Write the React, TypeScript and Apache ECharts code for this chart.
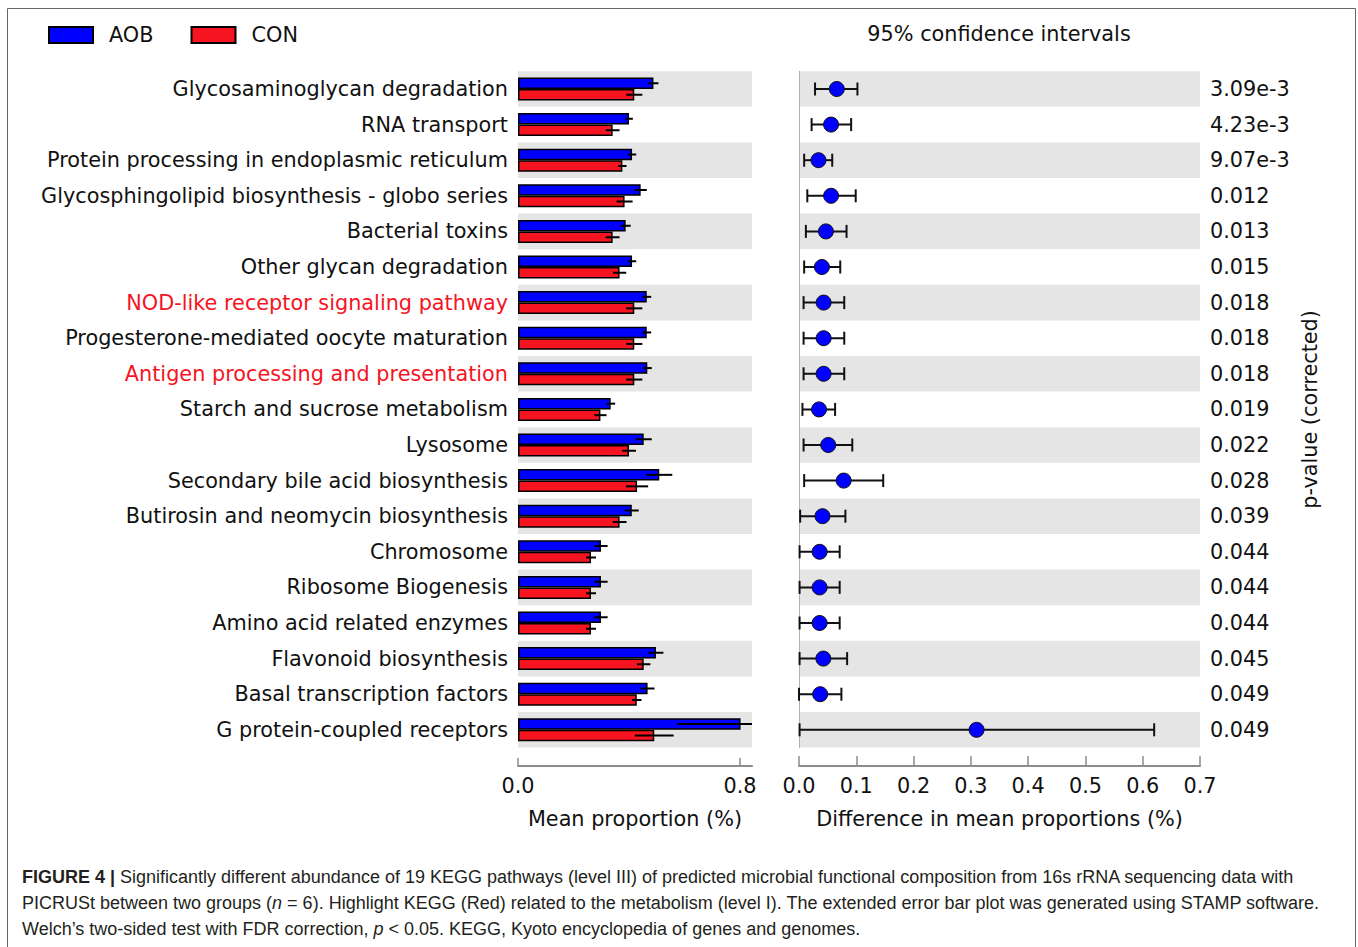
import React, { useEffect, useRef } from "react";
import * as echarts from "echarts";

const categories = [
  "Glycosaminoglycan degradation",
  "RNA transport",
  "Protein processing in endoplasmic reticulum",
  "Glycosphingolipid biosynthesis - globo series",
  "Bacterial toxins",
  "Other glycan degradation",
  "NOD-like receptor signaling pathway",
  "Progesterone-mediated oocyte maturation",
  "Antigen processing and presentation",
  "Starch and sucrose metabolism",
  "Lysosome",
  "Secondary bile acid biosynthesis",
  "Butirosin and neomycin biosynthesis",
  "Chromosome",
  "Ribosome Biogenesis",
  "Amino acid related enzymes",
  "Flavonoid biosynthesis",
  "Basal transcription factors",
  "G protein-coupled receptors",
];
const highlighted = [
  "NOD-like receptor signaling pathway",
  "Antigen processing and presentation",
];

const aobMean = [0.488, 0.4, 0.411, 0.442, 0.388, 0.411, 0.464, 0.464, 0.466, 0.334, 0.453, 0.509, 0.41, 0.299, 0.299, 0.299, 0.497, 0.467, 0.802];
const aobErr = [0.018, 0.014, 0.015, 0.022, 0.018, 0.015, 0.016, 0.016, 0.016, 0.016, 0.029, 0.047, 0.025, 0.024, 0.024, 0.024, 0.027, 0.025, 0.228];
const conMean = [0.419, 0.341, 0.376, 0.384, 0.341, 0.366, 0.419, 0.419, 0.419, 0.297, 0.4, 0.429, 0.366, 0.263, 0.263, 0.263, 0.453, 0.428, 0.491];
const conErr = [0.029, 0.025, 0.015, 0.029, 0.025, 0.024, 0.029, 0.029, 0.029, 0.022, 0.025, 0.04, 0.025, 0.018, 0.018, 0.018, 0.024, 0.017, 0.07];

const diffMean = [0.066, 0.056, 0.034, 0.056, 0.047, 0.04, 0.043, 0.043, 0.043, 0.035, 0.051, 0.078, 0.041, 0.036, 0.036, 0.036, 0.0425, 0.037, 0.31];
const ciLow = [0.028, 0.022, 0.009, 0.0145, 0.012, 0.009, 0.008, 0.008, 0.008, 0.006, 0.008, 0.009, 0.002, 0.001, 0.001, 0.001, 0.001, 0.0, 0.001];
const ciHigh = [0.102, 0.091, 0.058, 0.099, 0.083, 0.072, 0.079, 0.079, 0.079, 0.063, 0.093, 0.147, 0.081, 0.071, 0.071, 0.071, 0.084, 0.074, 0.62];

const pValues = ["3.09e-3", "4.23e-3", "9.07e-3", "0.012", "0.013", "0.015", "0.018", "0.018", "0.018", "0.019", "0.022", "0.028", "0.039", "0.044", "0.044", "0.044", "0.045", "0.049", "0.049"];

const leftTicks = [0, 0.8];
const rightTicks = [0, 0.1, 0.2, 0.3, 0.4, 0.5, 0.6, 0.7];

const FONT = "DejaVu Sans";
const FS = 20.8;
const CAP_FONT = "'Liberation Sans Narrow', 'Liberation Sans', Arial, sans-serif";
const CAP_FS = 18;
const BLUE = "#0000ff";
const RED = "#f5141f";
const TXT = "#111111";

export default function App() {
  const ref = useRef<HTMLDivElement>(null);

  useEffect(() => {
    if (!ref.current) return;
    const chart = echarts.init(ref.current, undefined, { renderer: "svg" });

    const gridTop = 71.2;
    const gridH = 676.4;
    const barW = 11.5;

    const errItem = (offset: number) => (params: any, api: any) => {
      const idx = api.value(0);
      const m = api.value(1);
      const e = api.value(2);
      const a = api.coord([m - e, idx]);
      const b = api.coord([m + e, idx]);
      const y = a[1] + offset;
      return {
        type: "line",
        shape: { x1: a[0], y1: y, x2: b[0], y2: y },
        style: { stroke: "#000", lineWidth: 2 },
      };
    };

    const ciItem = (params: any, api: any) => {
      const idx = api.value(0);
      const a = api.coord([api.value(1), idx]);
      const b = api.coord([api.value(2), idx]);
      const h = 6.5;
      const st = { stroke: "#111", lineWidth: 2 };
      return {
        type: "group",
        children: [
          { type: "line", shape: { x1: a[0], y1: a[1], x2: b[0], y2: b[1] }, style: st },
          { type: "line", shape: { x1: a[0], y1: a[1] - h, x2: a[0], y2: a[1] + h }, style: st },
          { type: "line", shape: { x1: b[0], y1: b[1] - h, x2: b[0], y2: b[1] + h }, style: st },
        ],
      };
    };

    const bandColors = ["#e5e5e5", "rgba(255,255,255,0)"];
    const txt = { fontSize: FS, fontFamily: FONT, color: TXT };

    const option: any = {
      animation: false,
      backgroundColor: "#ffffff",
      textStyle: { fontFamily: FONT, color: TXT },
      legend: {
        data: ["AOB", "CON"],
        left: 48,
        top: 24.5,
        padding: 0,
        itemWidth: 44,
        itemHeight: 16,
        itemGap: 37,
        icon: "rect",
        textStyle: { ...txt, padding: [0, 0, 0, 11] },
      },
      grid: [
        { left: 518, top: gridTop, width: 234, height: gridH },
        { left: 799, top: gridTop, width: 401, height: gridH },
      ],
      xAxis: [
        {
          type: "value",
          gridIndex: 0,
          min: 0,
          max: 0.8432,
          offset: 18.5,
          splitLine: { show: false },
          axisLine: { show: true, lineStyle: { color: "#8c8c8c", width: 2 } },
          axisTick: { show: true, inside: true, length: 8, customValues: leftTicks, lineStyle: { color: "#8c8c8c", width: 1.5 } },
          axisLabel: {
            customValues: leftTicks,
            formatter: (v: number) => v.toFixed(1),
            ...txt,
            margin: 9,
          },
          name: "Mean proportion (%)",
          nameLocation: "middle",
          nameGap: 42,
          nameTextStyle: txt,
        },
        {
          type: "value",
          gridIndex: 1,
          min: 0,
          max: 0.7,
          interval: 0.1,
          offset: 18.5,
          splitLine: { show: false },
          axisLine: { show: true, lineStyle: { color: "#8c8c8c", width: 2 } },
          axisTick: { show: true, inside: true, length: 10, customValues: rightTicks, lineStyle: { color: "#8c8c8c", width: 1.5 } },
          axisLabel: {
            customValues: rightTicks,
            formatter: (v: number) => v.toFixed(1),
            ...txt,
            margin: 9,
          },
          name: "Difference in mean proportions (%)",
          nameLocation: "middle",
          nameGap: 42,
          nameTextStyle: txt,
        },
      ],
      yAxis: [
        {
          type: "category",
          gridIndex: 0,
          inverse: true,
          data: categories.map((c) =>
            highlighted.includes(c) ? { value: c, textStyle: { color: RED } } : c
          ),
          axisLine: { show: false },
          axisTick: { show: false },
          axisLabel: { ...txt, margin: 10 },
          splitArea: { show: true, interval: 0, areaStyle: { color: bandColors } },
        },
        {
          type: "category",
          gridIndex: 1,
          inverse: true,
          data: categories,
          axisLine: { show: true, lineStyle: { color: "#b0b0b0", width: 1 } },
          axisTick: { show: false },
          axisLabel: { show: false },
          splitArea: { show: true, interval: 0, areaStyle: { color: bandColors } },
        },
        {
          type: "category",
          gridIndex: 1,
          inverse: true,
          position: "right",
          data: pValues.map((p, i) => ({ value: p + "\u200b".repeat(i) })),
          axisLine: { show: false },
          axisTick: { show: false },
          axisLabel: {
            ...txt,
            margin: 10,
            align: "left",
            formatter: (v: string) => v.replace(/\u200b/g, ""),
          },
          name: "p-value (corrected)",
          nameLocation: "middle",
          nameRotate: 90,
          nameGap: 99,
          nameTextStyle: txt,
        },
      ],
      series: [
        {
          name: "AOB",
          type: "bar",
          xAxisIndex: 0,
          yAxisIndex: 0,
          data: aobMean,
          barWidth: barW,
          barGap: "0%",
          itemStyle: { color: BLUE, borderColor: "#000", borderWidth: 1.5 },
          z: 2,
        },
        {
          name: "CON",
          type: "bar",
          xAxisIndex: 0,
          yAxisIndex: 0,
          data: conMean,
          barWidth: barW,
          barGap: "0%",
          itemStyle: { color: RED, borderColor: "#000", borderWidth: 1.5 },
          z: 2,
        },
        {
          type: "custom",
          xAxisIndex: 0,
          yAxisIndex: 0,
          clip: true,
          renderItem: errItem(-barW / 2),
          data: aobMean.map((m, i) => [i, m, aobErr[i]]),
          encode: { y: 0, x: 1 },
          z: 3,
        },
        {
          type: "custom",
          xAxisIndex: 0,
          yAxisIndex: 0,
          clip: true,
          renderItem: errItem(barW / 2),
          data: conMean.map((m, i) => [i, m, conErr[i]]),
          encode: { y: 0, x: 1 },
          z: 3,
        },
        {
          type: "custom",
          xAxisIndex: 1,
          yAxisIndex: 1,
          renderItem: ciItem,
          data: diffMean.map((m, i) => [i, ciLow[i], ciHigh[i]]),
          encode: { y: 0, x: [1, 2] },
          z: 3,
        },
        {
          type: "scatter",
          xAxisIndex: 1,
          yAxisIndex: 1,
          symbol: "circle",
          symbolSize: 15,
          data: diffMean.map((m, i) => [m, i]),
          itemStyle: { color: BLUE, borderColor: "#111", borderWidth: 1, opacity: 1 },
          z: 4,
        },
      ],
      graphic: [
        {
          type: "rect",
          shape: { x: 7.5, y: 8.5, width: 1348, height: 960 },
          style: { fill: "none", stroke: "#666", lineWidth: 1 },
          silent: true,
        },
        {
          type: "text",
          x: 999,
          y: 34,
          style: {
            text: "95% confidence intervals",
            fontSize: FS,
            fontFamily: FONT,
            fill: TXT,
            align: "center",
            verticalAlign: "middle",
          },
        },
        {
          type: "text",
          x: 22,
          y: 877,
          style: {
            text: "{b|FIGURE 4 |} Significantly different abundance of 19 KEGG pathways (level III) of predicted microbial functional composition from 16s rRNA sequencing data with",
            fontSize: CAP_FS,
            fontFamily: CAP_FONT,
            fill: "#231f20",
            verticalAlign: "middle",
            rich: { b: { fontWeight: "bold", fontSize: CAP_FS, fontFamily: CAP_FONT, fill: "#231f20" } },
          },
        },
        {
          type: "text",
          x: 22,
          y: 903,
          style: {
            text: "PICRUSt between two groups ({i|n} = 6). Highlight KEGG (Red) related to the metabolism (level I). The extended error bar plot was generated using STAMP software.",
            fontSize: CAP_FS,
            fontFamily: CAP_FONT,
            fill: "#231f20",
            verticalAlign: "middle",
            rich: { i: { fontStyle: "italic", fontSize: CAP_FS, fontFamily: CAP_FONT, fill: "#231f20" } },
          },
        },
        {
          type: "text",
          x: 22,
          y: 929,
          style: {
            text: "Welch\u2019s two-sided test with FDR correction, {i|p} < 0.05. KEGG, Kyoto encyclopedia of genes and genomes.",
            fontSize: CAP_FS,
            fontFamily: CAP_FONT,
            fill: "#231f20",
            verticalAlign: "middle",
            rich: { i: { fontStyle: "italic", fontSize: CAP_FS, fontFamily: CAP_FONT, fill: "#231f20" } },
          },
        },
      ],
    };

    chart.setOption(option);
    return () => chart.dispose();
  }, []);

  return (
    <div
      ref={ref}
      style={{ position: "absolute", left: 0, top: 0, width: 1358, height: 947, background: "#fff" }}
    />
  );
}
